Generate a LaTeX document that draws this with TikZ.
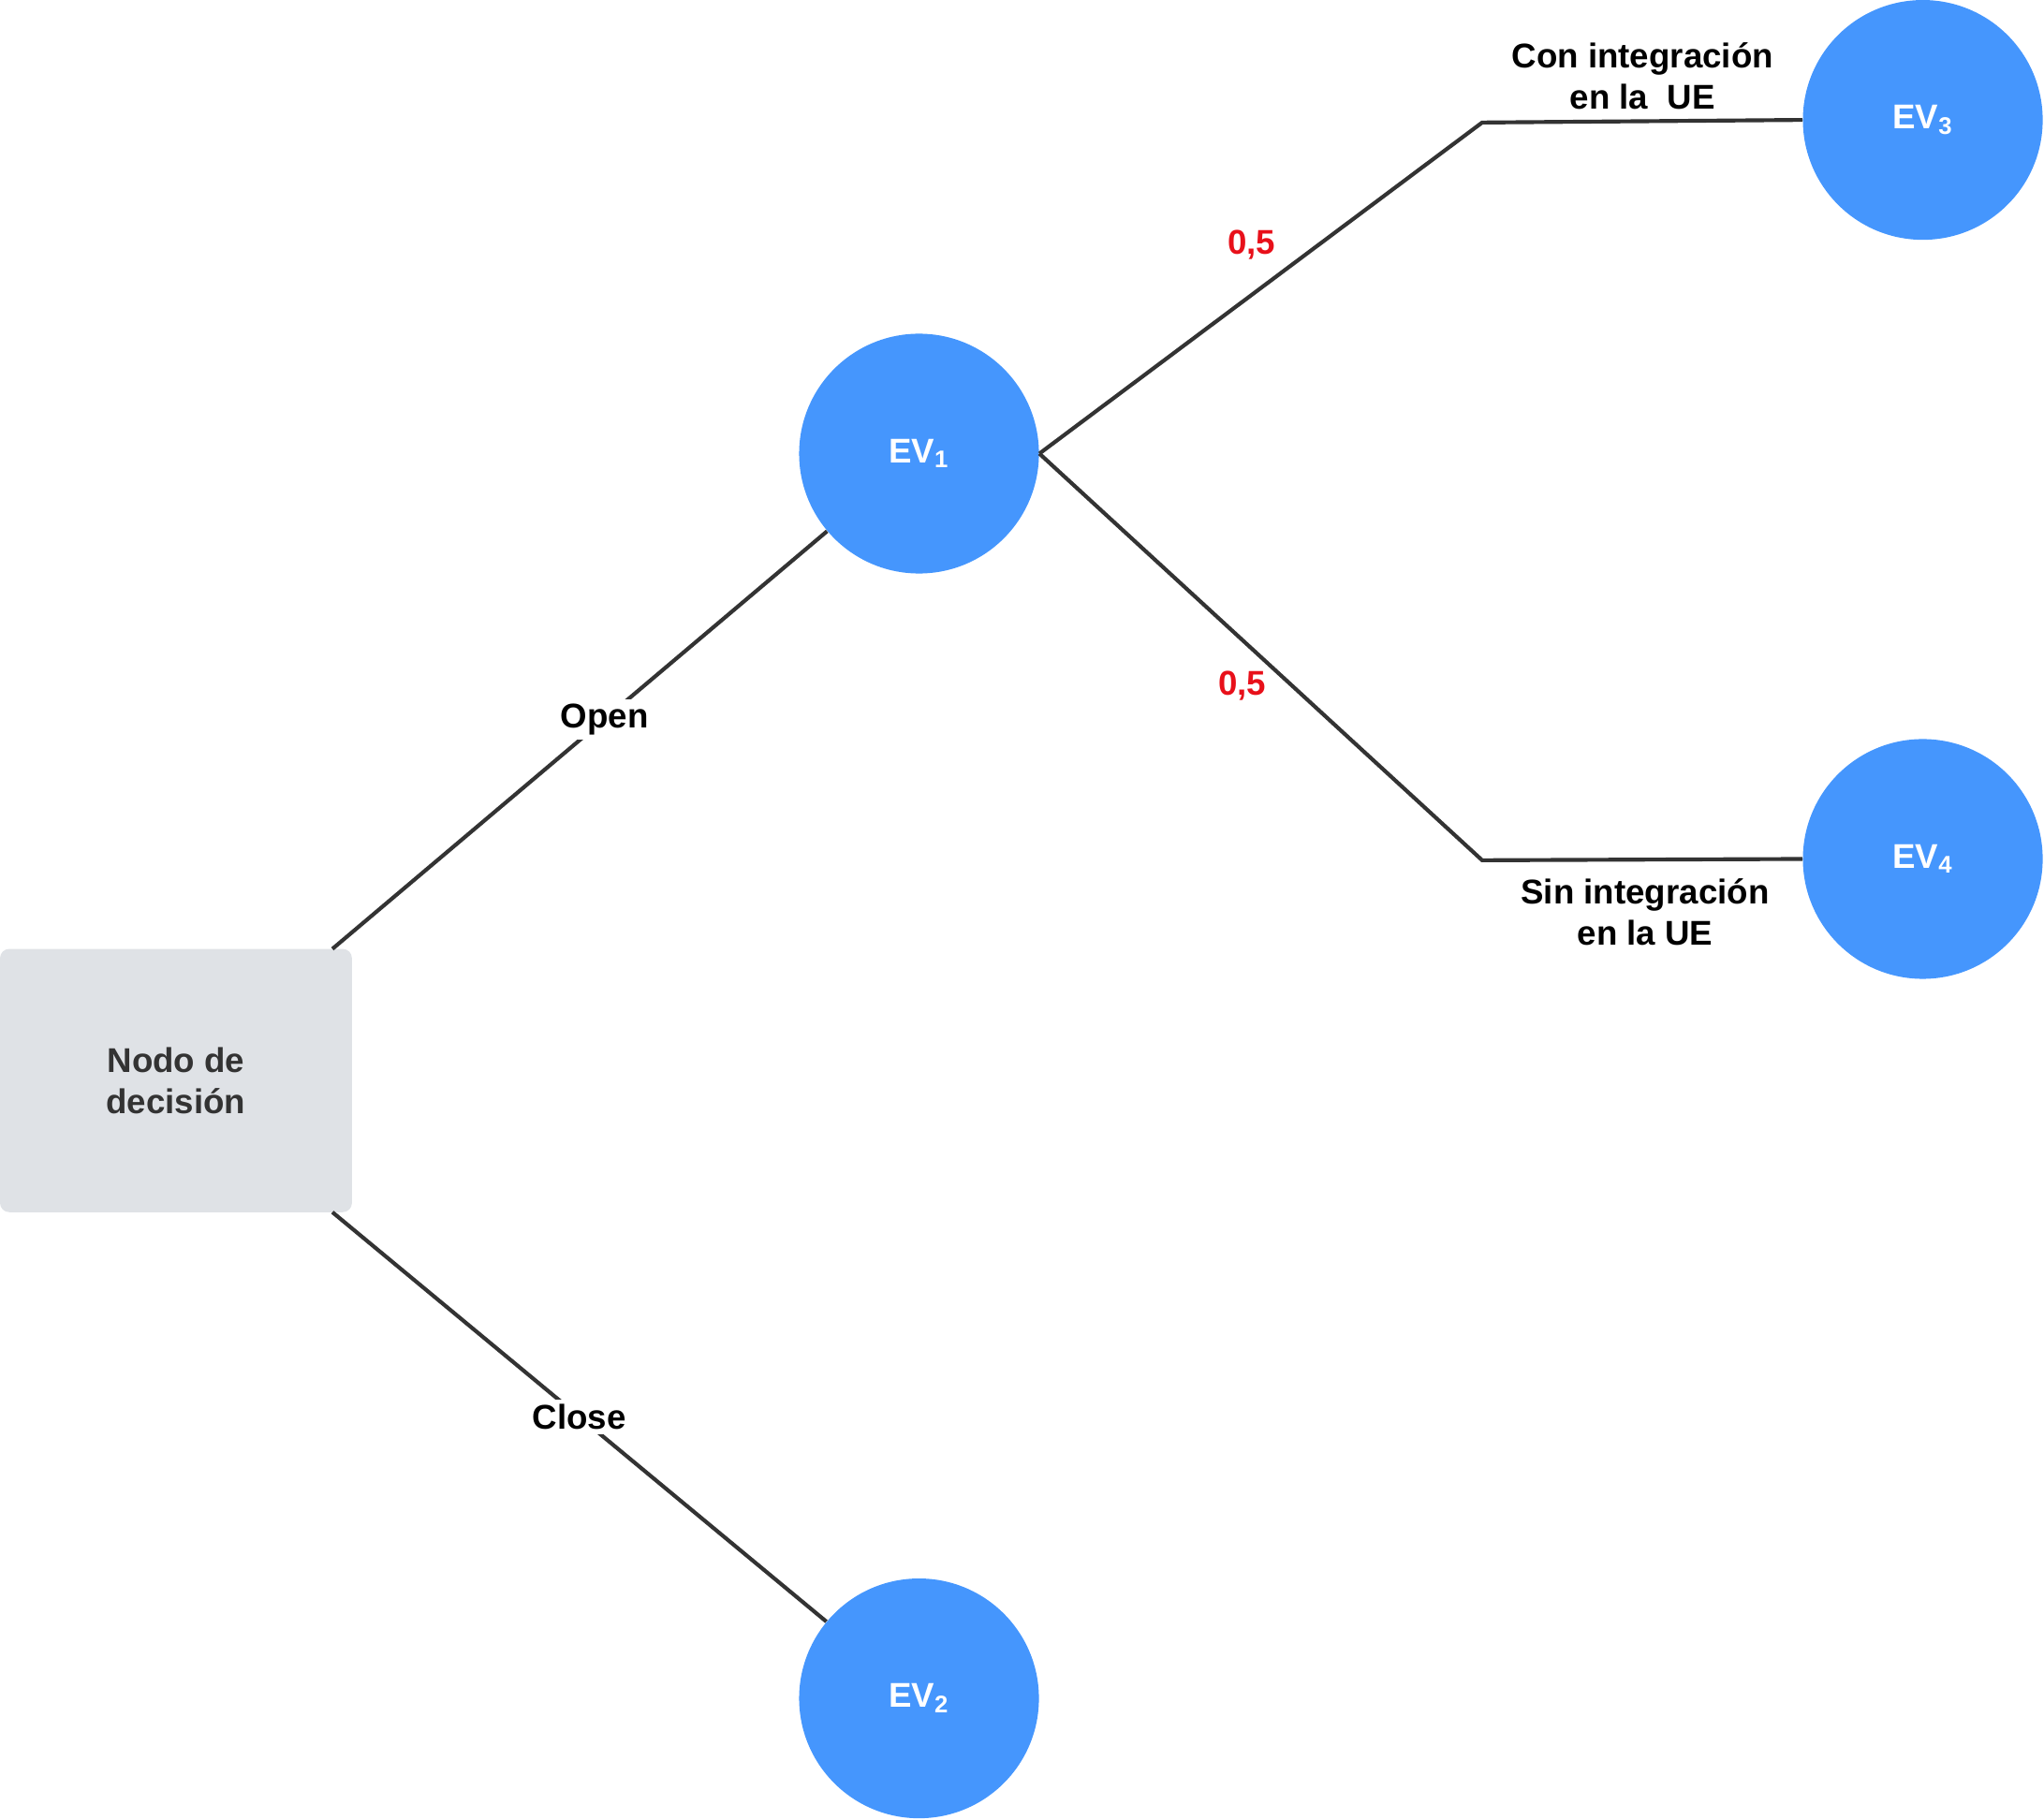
\documentclass[tikz,border=0pt]{standalone}
\usepackage{fontspec}
\setmainfont{Liberation Sans}
\usetikzlibrary{positioning}
\definecolor{evblue}{HTML}{4596FD}
\definecolor{boxgray}{HTML}{DFE2E6}
\definecolor{probred}{HTML}{E8101A}
\definecolor{linegray}{HTML}{333333}

\begin{document}
\begin{tikzpicture}[x=0.02cm, y=-0.02cm,
        every node/.style={font=\fontsize{15}{18}\selectfont\bfseries},
        ev/.style={circle, fill=evblue, text=white, minimum size=3.68cm, inner sep=0pt},
        decision/.style={rectangle, rounded corners=4pt, fill=boxgray, text=linegray, minimum width=5.4cm, minimum height=4.04cm, align=center},
        branch/.style={draw=linegray, line width=1.7pt},
        lbl/.style={fill=white, inner sep=2pt, align=center},
        prob/.style={text=probred}
    ]
    \useasboundingbox (0,0) rectangle (1568,1396);
    % Nodes
    \node[decision] (dec) at (135,829) {Nodo de\\decisión};
    \node[ev] (ev1) at (705,348) {EV\textsubscript{1}};
    \node[ev] (ev2) at (705,1303) {EV\textsubscript{2}};
    \node[ev] (ev3) at (1475,92) {EV\textsubscript{3}};
    \node[ev] (ev4) at (1475,659) {EV\textsubscript{4}};
    \coordinate (k3) at (1137,94);
    \coordinate (k4) at (1137,660);

    % Branches
    \draw[branch] (255,728) -- node[lbl, pos=0.55] {Open} (ev1);
    \draw[branch] (255,930) -- node[lbl, pos=0.5] {Close} (ev2);
    \draw[branch] (ev1.east) -- (k3) -- (ev3.west);
    \draw[branch] (ev1.east) -- (k4) -- (ev4.west);

    % Labels
    \node[prob] at (960,188) {0,5};
    \node[prob] at (953,526) {0,5};
    \node[align=center] at (1260,58) {Con integración\\en la\ \ UE};
    \node[align=center] at (1262,700) {Sin integración\\en la UE};
\end{tikzpicture}
\end{document}
